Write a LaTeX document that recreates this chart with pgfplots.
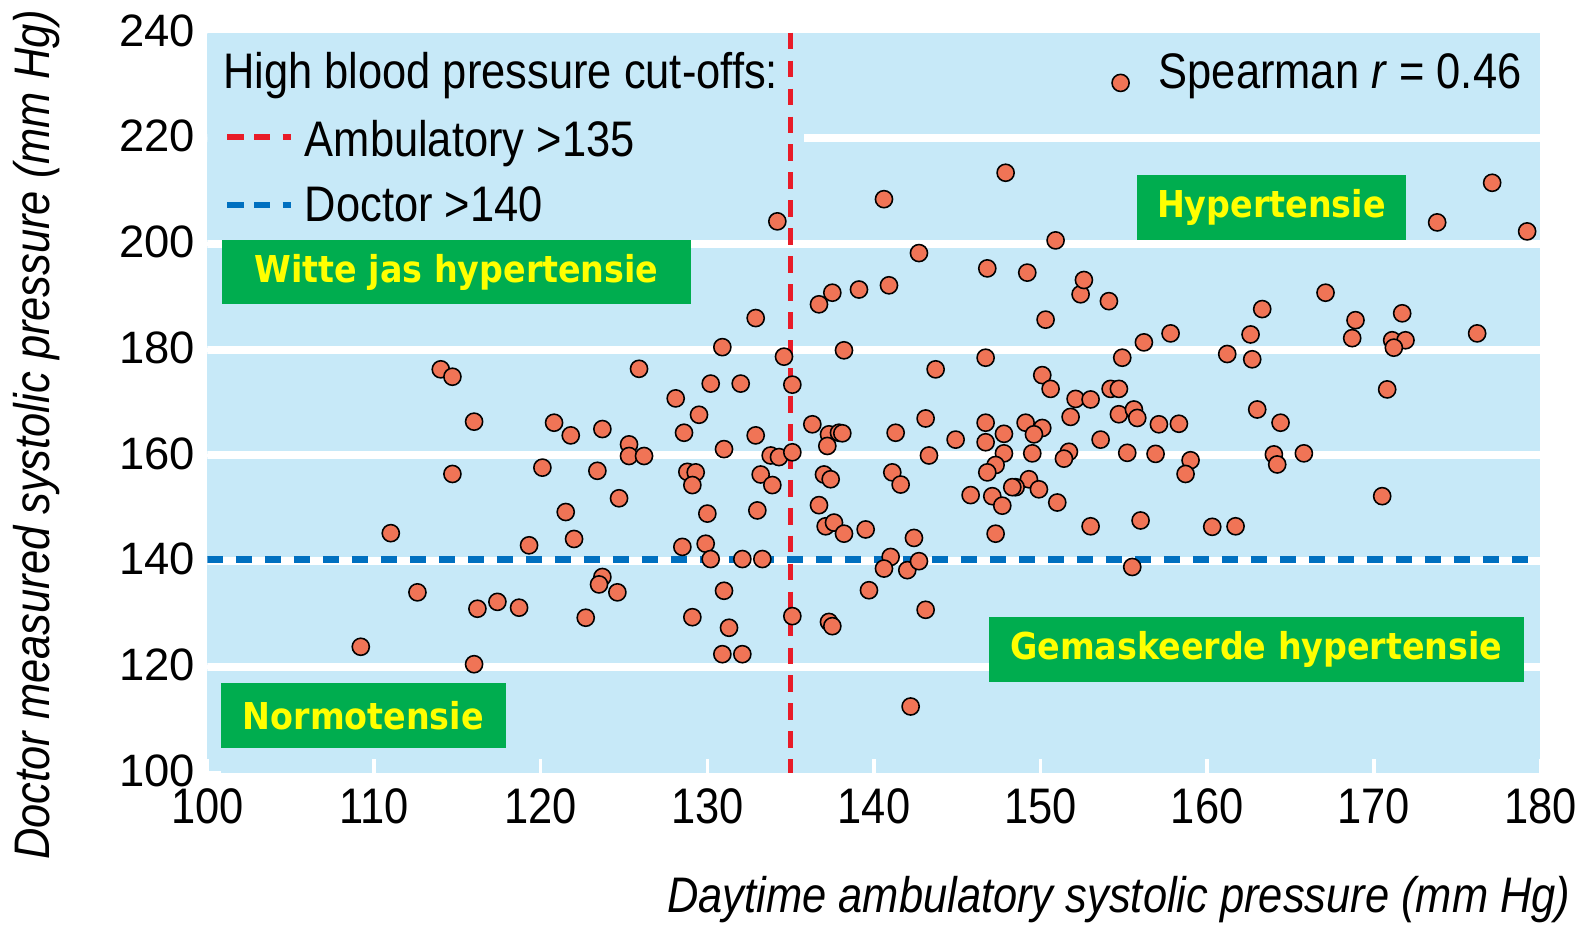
\documentclass[border=0pt]{standalone}
\usepackage{fontspec}
\setmainfont{Liberation Sans}
\newfontfamily\condfont[FakeStretch=0.87]{Liberation Sans}
\newfontfamily\boxfont[FakeStretch=0.9]{DejaVu Sans}
\usepackage{pgfplots}
\pgfplotsset{compat=1.18}

\definecolor{bgblue}{RGB}{199,233,248}
\definecolor{dotcol}{RGB}{240,116,86}
\definecolor{ambred}{RGB}{232,28,40}
\definecolor{docblue}{RGB}{0,112,192}
\definecolor{boxgreen}{RGB}{0,173,79}
\definecolor{labyellow}{RGB}{255,255,0}

\pgfplotstableread{
x y
134.2 204.3
154.8 230.5
147.9 213.5
140.6 208.5
177.1 211.6
173.8 204.1
179.2 202.4
150.9 200.7
142.7 198.3
114.0 176.3
114.7 174.9
116.0 166.4
120.8 166.2
121.8 163.8
123.7 165.0
114.7 156.5
120.1 157.7
123.4 157.1
121.5 149.3
137.5 190.8
136.7 188.6
139.1 191.4
140.9 192.2
132.9 186.0
130.9 180.5
138.2 179.9
134.6 178.7
143.7 176.3
125.9 176.4
130.2 173.6
132.0 173.6
135.1 173.4
128.1 170.8
129.5 167.7
143.1 167.0
136.3 165.9
128.6 164.3
132.9 163.8
137.3 164.0
137.9 164.3
138.1 164.2
141.3 164.3
144.9 163.0
137.2 161.8
125.3 162.1
125.3 159.9
126.2 159.9
131.0 161.2
133.8 160.0
134.3 159.7
135.1 160.6
143.3 160.0
128.8 156.9
129.3 156.8
129.1 154.4
133.2 156.4
133.9 154.4
137.0 156.4
137.4 155.5
141.1 156.8
141.6 154.5
145.8 152.5
124.7 151.9
130.0 149.0
133.0 149.6
136.7 150.6
137.1 146.6
137.6 147.3
138.2 145.2
139.5 146.0
142.4 144.4
128.5 142.7
129.9 143.3
130.2 140.4
132.1 140.4
133.3 140.4
141.0 140.8
140.6 138.6
142.0 138.3
142.7 140.0
123.7 137.0
123.5 135.6
124.6 134.1
131.0 134.4
139.7 134.5
129.1 129.4
135.1 129.6
137.3 128.5
137.5 127.7
143.1 130.8
131.3 127.4
130.9 122.4
132.1 122.4
142.2 112.5
111.0 145.3
122.0 144.2
119.3 143.0
112.6 134.1
116.2 131.0
117.4 132.3
118.7 131.2
122.7 129.3
109.2 123.8
116.0 120.5
146.8 195.4
149.2 194.6
152.4 190.5
152.6 193.2
154.1 189.2
150.3 185.7
163.3 187.7
162.6 182.9
157.8 183.1
156.2 181.4
146.7 178.5
154.9 178.5
161.2 179.2
162.7 178.2
150.1 175.2
150.6 172.6
154.2 172.6
154.7 172.6
152.1 170.7
153.0 170.6
151.8 167.3
154.7 167.8
155.6 168.7
155.8 167.1
157.1 165.9
158.3 166.0
163.0 168.7
164.4 166.2
146.7 166.2
146.7 162.5
147.8 164.1
149.1 166.2
150.1 165.2
149.6 164.0
153.6 163.0
147.8 160.4
149.5 160.4
151.7 160.7
151.4 159.4
155.2 160.5
156.9 160.3
159.0 159.1
158.7 156.5
164.0 160.2
164.2 158.3
165.8 160.4
147.3 158.2
146.8 156.8
149.3 155.5
148.5 154.0
148.3 154.0
149.9 153.6
147.1 152.3
147.7 150.5
151.0 151.1
153.0 146.6
156.0 147.7
160.3 146.5
161.7 146.6
147.3 145.2
167.1 190.8
168.9 185.6
168.7 182.2
171.7 186.9
171.1 181.8
171.9 181.8
171.2 180.4
176.2 183.1
170.8 172.5
170.5 152.3
155.5 138.9
}\bpdata

\newcommand{\zonebox}[5]{%
  \fill[boxgreen] (axis cs:#1,#2) rectangle (axis cs:#3,#4);
  \node[text=labyellow, font=\boxfont\bfseries\fontsize{10.6}{12}\selectfont, inner sep=0pt]
    at (axis cs:{(#1+#3)/2},{(#2+#4)/2}) {#5};}

\begin{document}
\begin{tikzpicture}
\path[use as bounding box] (-59.4pt,-44pt) rectangle (394.05pt,221.16pt);
\begin{axis}[
  scale only axis, width=381.6pt, height=211.8pt,
  xmin=100, xmax=180, ymin=100, ymax=240,
  xtick={100,110,...,180}, ytick={100,120,...,240},
  axis background/.style={fill=bgblue},
  axis line style={draw=none},
  tick align=inside, tick pos=left,
  major tick length=4pt,
  tick style={white, line width=1pt},
  /pgf/number format/assume math mode=true,
  /pgf/number format/1000 sep={},
  xticklabel style={font=\condfont\fontsize{14.3}{16}\selectfont, yshift=-1.2pt},
  yticklabel style={font=\fontsize{13}{15}\selectfont, yshift=0.6pt},
]
% white grid bands
\pgfplotsinvokeforeach{120,140,160,180,200,220}{
  \draw[white, line width=2.3pt] (axis cs:100,#1) -- (axis cs:180,#1);
}
% legend panel hides the 220 line on the left
\fill[bgblue] (axis cs:100,205) rectangle (axis cs:135.8,240);

% cut-off lines
\draw[ambred, line width=1.5pt, dash pattern=on 4.8pt off 3.2pt] (axis cs:135,240) -- (axis cs:135,100);
\draw[docblue, line width=1.9pt, dash pattern=on 4.4pt off 3.9pt] (axis cs:100,140.3) -- (axis cs:180,140.3);

\addplot[only marks, mark=*, mark size=2.45pt,
  mark options={fill=dotcol, draw=black, line width=0.45pt}] table[x=x, y=y] {\bpdata};

% category labels
\zonebox{100.9}{188.6}{129.0}{200.7}{Witte jas hypertensie}
\zonebox{155.8}{200.7}{171.9}{213.1}{Hypertensie}
\zonebox{146.9}{117.1}{179.0}{129.4}{Gemaskeerde hypertensie}
\zonebox{100.8}{104.7}{117.9}{117.0}{Normotensie}

% legend
\node[anchor=base west, inner sep=0pt, font=\condfont\fontsize{14.3}{16}\selectfont]
  at (axis cs:100.9,229.4) {High blood pressure cut-offs:};
\draw[ambred, line width=1.6pt, dash pattern=on 4.6pt off 3pt on 4.6pt off 3.6pt on 2.4pt off 10pt] (axis cs:101.2,220.3) -- (axis cs:105.05,220.3);
\node[anchor=base west, inner sep=0pt, font=\condfont\fontsize{14.3}{16}\selectfont]
  at (axis cs:105.8,216.5) {Ambulatory >135};
\draw[docblue, line width=1.6pt, dash pattern=on 4.6pt off 3pt on 4.6pt off 3.6pt on 2.4pt off 10pt] (axis cs:101.2,207.4) -- (axis cs:105.05,207.4);
\node[anchor=base west, inner sep=0pt, font=\condfont\fontsize{14.3}{16}\selectfont]
  at (axis cs:105.8,204.2) {Doctor >140};
\node[anchor=base east, inner sep=0pt, font=\condfont\fontsize{14.3}{16}\selectfont]
  at (axis cs:178.9,229.4) {Spearman \textit{r} = 0.46};
\end{axis}

\node[rotate=90, inner sep=0pt, font=\condfont\itshape\fontsize{14.3}{16}\selectfont]
  at (-48.8pt,96.7pt) {Doctor measured systolic pressure (mm Hg)};
\node[anchor=east, inner sep=0pt, font=\condfont\itshape\fontsize{14.3}{16}\selectfont]
  at (390.4pt,-36.3pt) {Daytime ambulatory systolic pressure (mm Hg)};
\end{tikzpicture}
\end{document}
